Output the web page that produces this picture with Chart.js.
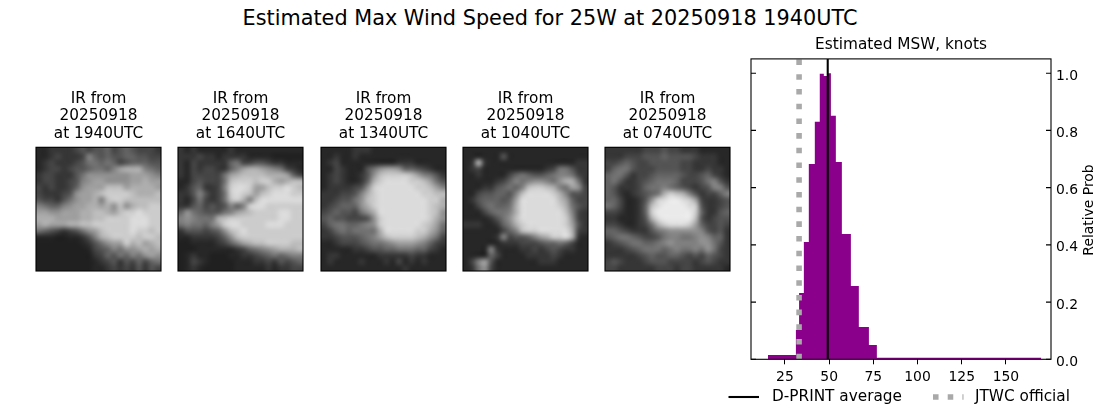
<!DOCTYPE html>
<html lang="en">
<head>
  <meta charset="UTF-8">
  <title>Estimated Max Wind Speed for 25W</title>
  <script src="https://cdn.jsdelivr.net/npm/chart.js"></script>
  <style>
    html, body { margin: 0; padding: 0; background: #fff; }
    body { position: relative; width: 1100px; height: 409px; overflow: hidden; font-family: 'DejaVu Sans', sans-serif; }
    canvas { position: absolute; }
    #suptitle { position: absolute; left: 0; top: 6px; width: 1100px; text-align: center; font-size: 20.8px; line-height: 24px; color: #000; }
  </style>
</head>
<body>
  <div id="suptitle">Estimated Max Wind Speed for 25W at 20250918 1940UTC</div>
  <canvas id="ir0"></canvas>
  <canvas id="ir1"></canvas>
  <canvas id="ir2"></canvas>
  <canvas id="ir3"></canvas>
  <canvas id="ir4"></canvas>
  <canvas id="mswChart"></canvas>

  <script>
    // histogram (bin edges in knots, height of each bin)
    const binEdges = [15.4, 31.2, 33, 35.7, 38.5, 41.9, 44.7, 47, 49.2, 51, 53.8, 57.2, 62.3, 66.8, 72.5, 77, 170];
    const binHeights = [0.015, 0.102, 0.232, 0.41, 0.683, 0.83, 0.998, 0.99, 1.0, 0.851, 0.69, 0.438, 0.256, 0.113, 0.05, 0.005];
    const dprintAverage = 49.2;
    const jtwcOfficial = 33;
    const xTicks = [25, 50, 75, 100, 125, 150];
    const yTicks = [0, 0.2, 0.4, 0.6, 0.8, 1.0];
    const irTimes = ['1940UTC', '1640UTC', '1340UTC', '1040UTC', '0740UTC'];

    // IR thumbnails, estimated brightness per cell (hex digit, 0 dark .. e bright)
    const ir1940 = [
      '11222234344534543332', '11232223754544554433', '12322234665653455544', '12332344566579aaa765',
      '23322246888888899987', '23322347899888899a99', '32322358999bbb9aaaa9', '322234899abccccbaaab',
      '433246899a7bccbbbbbb', '76557899aa9a8b8abbcc', '9988999aabba9bccdccc', 'aaa9999aabbccccdddcc',
      '9a999aabbccccccdddcc', '6543234689bccccdccbc', '1110011247abccccbccb', '00000001246899cab9ab',
      '00000000134576889a9a', '00000000023546576898', '00000000012342435356', '00000000011232324243'
    ];
    const ir1640 = [
      '21211111211111111111', '22232212222111100000', '21322222563344322111', '21323322579aa9876321',
      '213333369abbbbaaa953', '11343336bcccbcca9abb', '12452237cddc99bccdcb', '22474236cdcb9bcdddcc',
      '21363236bca7bddddddd', '22453434757cddcccccc', '5865444679abccccddcc', '787666abccccccccddcc',
      '6766579cddccccdddccc', '24443458bcdccccccccc', '112222358bcccccccccc', '00111123579abbccccbb',
      '0001111112356789aaab', '01211000112234565677', '01321000011122324345', '01210000011111212233'
    ];
    const ir1340 = [
      '11111222111111111111', '11211211111111111111', '12311111111122211111', '11321114689985543211',
      '123211248bccccb97642', '12321125acddddccb964', '12222348cddddddccb97', '2223347acdddddddccbb',
      '2234468bcddddddddcca', '2345558acddddddddcba', '34544368addddddddcb8', '454433348cdddddddca8',
      '356655678cddddddcb96', '235656666adddddcca85', '2234445679bccccba863', '11233345667899987532',
      '11111223445566655321', '12211111122222322111', '12111121112131212111', '11111111111112111111'
    ];
    const ir1040 = [
      '11111111111111111111', '11111141111111111111', '12a21111111111111122', '12311111111112366422',
      '11211113565445677632', '1111123576788768aa62', '1112245657bccba76983', '113445547bddddca7443',
      '124555459ddddddb9533', '11356556addddddca643', '11135667adddddddb732', '11112468bdddddddc832',
      '22211257acddddddc942', '111111357bccddddda32', '1111127344579accda21', '11111122233345565311',
      '11117211122323432211', '11115311112222321111', '13794111111122211111', '12683111111111111111'
    ];
    const ir0740 = [
      '22222233343322211111', '22233344454444322211', '33454334444433222211', '35664333444433223221',
      '56642334555543345321', '56422345666533346742', '54222356676543234774', '542123456acba7423357',
      '55311248cdeedc932234', '6531125bdeeeedc42234', '3321125ceeeeeec52245', '2211124adeeeeeb42344',
      '33211236acdddc953343', '55432224678888874342', '45665433467766787552', '23456655678777788642',
      '22234566656766768632', '22222345445543435432', '34322234443333234322', '33222222333233222221'
    ];
    const irGrids = [ir1940, ir1640, ir1340, ir1040, ir0740];
    const irLefts = [35.5, 178, 320.5, 462.5, 605];

    Chart.defaults.font.family = "'DejaVu Sans', sans-serif";
    Chart.defaults.color = '#000';
    Chart.defaults.animation = false;
    Chart.defaults.responsive = false;

    function grayOf(level) {
      const g = Math.max(32, Math.round(24 + level * 15));
      return 'rgb(' + g + ',' + g + ',' + g + ')';
    }

    // paints the thumbnail cells smoothed, into the box given by the scales
    const irImagePlugin = {
      id: 'irImage',
      beforeDatasetsDraw(chart) {
        const cells = chart.data.datasets[0].data;
        const off = document.createElement('canvas');
        off.width = 20;
        off.height = 20;
        const oc = off.getContext('2d');
        cells.forEach(c => {
          oc.fillStyle = grayOf(c.v);
          oc.fillRect(c.x - 0.5, c.y - 0.5, 1, 1);
        });
        const { ctx, scales: { x, y } } = chart;
        const left = x.getPixelForValue(0), right = x.getPixelForValue(20);
        const top = y.getPixelForValue(0), bottom = y.getPixelForValue(20);
        ctx.save();
        ctx.imageSmoothingEnabled = true;
        ctx.imageSmoothingQuality = 'high';
        ctx.drawImage(off, left, top, right - left, bottom - top);
        ctx.strokeStyle = '#000';
        ctx.lineWidth = 1.1;
        ctx.strokeRect(left, top, right - left, bottom - top);
        ctx.restore();
      }
    };

    irGrids.forEach((grid, i) => {
      const cells = [];
      grid.forEach((row, r) => {
        row.split('').forEach((ch, c) => {
          cells.push({ x: c + 0.5, y: r + 0.5, v: parseInt(ch, 16) });
        });
      });
      const el = document.getElementById('ir' + i);
      el.width = 165;
      el.height = 183;
      el.style.left = (irLefts[i] - 20) + 'px';
      el.style.top = '90px';
      new Chart(el, {
        type: 'scatter',
        data: { datasets: [{ data: cells, pointRadius: 0 }] },
        options: {
          layout: { padding: { left: 20, right: 20, bottom: 2 } },
          plugins: {
            legend: { display: false },
            tooltip: { enabled: false },
            title: {
              display: true,
              text: ['IR from', '20250918', 'at ' + irTimes[i]],
              font: { size: 15.3, weight: 'normal', lineHeight: 1.15 },
              padding: { top: 0, bottom: 4.5 }
            }
          },
          scales: {
            x: { display: false, min: 0, max: 20 },
            y: { display: false, min: 0, max: 20, reverse: true }
          }
        },
        plugins: [irImagePlugin]
      });
    });

    // box, inward y ticks, rotated axis label and the legend of the MSW panel
    const mswDecorPlugin = {
      id: 'mswDecor',
      afterDraw(chart) {
        const { ctx, chartArea: a, scales: { y } } = chart;
        ctx.save();
        ctx.strokeStyle = '#000';
        ctx.lineWidth = 1.1;
        ctx.strokeRect(a.left, a.top, a.right - a.left, a.bottom - a.top);
        yTicks.forEach(t => {
          const py = y.getPixelForValue(t);
          ctx.beginPath();
          ctx.moveTo(a.left, py);
          ctx.lineTo(a.left + 5, py);
          ctx.moveTo(a.right - 5, py);
          ctx.lineTo(a.right, py);
          ctx.stroke();
        });

        ctx.fillStyle = '#000';
        ctx.font = "13.9px 'DejaVu Sans'";
        ctx.textAlign = 'center';
        ctx.textBaseline = 'middle';
        ctx.save();
        ctx.translate(389, 180);
        ctx.rotate(-Math.PI / 2);
        ctx.fillText('Relative Prob', 0, 0);
        ctx.restore();

        // legend
        const ly = 367;
        ctx.font = "15.3px 'DejaVu Sans'";
        ctx.textAlign = 'left';
        ctx.fillText('D-PRINT average', 72, ly);
        ctx.fillText('JTWC official', 275, ly);
        ctx.strokeStyle = '#000';
        ctx.lineWidth = 2.08;
        ctx.beginPath();
        ctx.moveTo(28.5, ly);
        ctx.lineTo(59, ly);
        ctx.stroke();
        ctx.strokeStyle = '#a9a9a9';
        ctx.lineWidth = 5.55;
        ctx.setLineDash([5.55, 9.16]);
        ctx.beginPath();
        ctx.moveTo(233, ly);
        ctx.lineTo(263.5, ly);
        ctx.stroke();
        ctx.restore();
      }
    };

    const histPoints = binHeights.map((h, i) => ({ x: binEdges[i], y: h }));
    histPoints.unshift({ x: binEdges[0], y: 0 });
    histPoints.push({ x: binEdges[binEdges.length - 1], y: 0 });

    const mainEl = document.getElementById('mswChart');
    mainEl.width = 400;
    mainEl.height = 379;
    mainEl.style.left = '700px';
    mainEl.style.top = '30px';

    new Chart(mainEl, {
      type: 'line',
      data: {
        datasets: [
          {
            label: 'D-PRINT average',
            data: [{ x: dprintAverage, y: 0 }, { x: dprintAverage, y: 1.05 }],
            borderColor: '#000',
            borderWidth: 2.08,
            pointRadius: 0
          },
          {
            label: 'JTWC official',
            data: [{ x: jtwcOfficial, y: 0 }, { x: jtwcOfficial, y: 1.05 }],
            borderColor: '#a9a9a9',
            borderWidth: 5.55,
            borderDash: [5.55, 9.16],
            pointRadius: 0
          },
          {
            label: 'Relative Prob',
            data: histPoints,
            stepped: true,
            fill: 'origin',
            backgroundColor: '#8b008b',
            borderWidth: 0,
            pointRadius: 0
          }
        ]
      },
      options: {
        layout: { padding: { left: 51, right: 0, top: 0, bottom: 24 } },
        plugins: {
          legend: { display: false },
          tooltip: { enabled: false },
          title: {
            display: true,
            text: 'Estimated MSW, knots',
            fullSize: false,
            font: { size: 15.3, weight: 'normal', lineHeight: 1.17 },
            padding: { top: 6, bottom: 5 }
          }
        },
        scales: {
          x: {
            type: 'linear',
            min: 5.8,
            max: 175.5,
            afterBuildTicks: axis => { axis.ticks = xTicks.map(v => ({ value: v })); },
            afterFit: axis => { axis.height = 25.7; },
            grid: { drawOnChartArea: false, drawTicks: true, tickLength: 5, color: '#000' },
            border: { display: false },
            ticks: { font: { size: 13.9 }, maxRotation: 0, autoSkip: false, padding: 5 }
          },
          y: {
            position: 'right',
            min: 0,
            max: 1.05,
            afterBuildTicks: axis => { axis.ticks = yTicks.map(v => ({ value: v })); },
            afterFit: axis => { axis.width = 49; },
            grid: { display: false, drawTicks: false },
            border: { display: false },
            ticks: { font: { size: 13.9 }, padding: 5, labelOffset: 3, callback: v => v.toFixed(1) }
          }
        }
      },
      plugins: [mswDecorPlugin]
    });
  </script>
</body>
</html>
